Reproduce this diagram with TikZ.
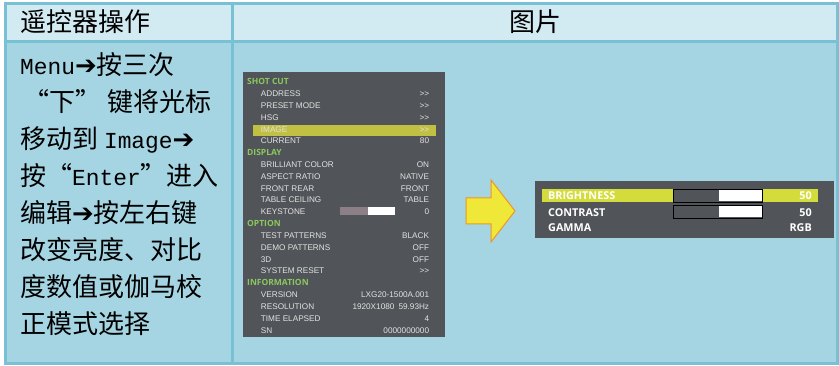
\documentclass[tikz,border=0pt]{standalone}
\usepackage{fontspec}
\setmainfont{Liberation Sans}
\newfontfamily\cjk{Noto Sans CJK SC}
\newfontfamily\lat[Scale=0.88]{Liberation Mono}
\newfontfamily\osd{Open Sans}
\newfontfamily\sym{DejaVu Sans}
\newcommand{\rarr}{{\sym ➔}}
\newcommand{\more}{>\kern0pt>}

\definecolor{hdrbg}{RGB}{210,234,242}
\definecolor{bodybg}{RGB}{165,213,226}
\definecolor{rule}{RGB}{120,192,211}
\definecolor{osdbg}{RGB}{81,84,88}
\definecolor{osdgreen}{RGB}{140,200,95}
\definecolor{osdtext}{RGB}{226,226,226}
\definecolor{hilite}{RGB}{193,192,66}
\definecolor{hilitetwo}{RGB}{212,220,60}
\definecolor{arrowfill}{RGB}{240,232,56}
\definecolor{arrowdraw}{RGB}{240,150,30}
\definecolor{keygray}{RGB}{140,127,134}

\tikzset{
  headtext/.style={anchor=base west, inner sep=0, font=\cjk\fontsize{26}{30}\selectfont},
  steptext/.style={anchor=base west, inner sep=0, font=\cjk\fontsize{26}{30}\selectfont},
  menuhead/.style={anchor=base west, inner sep=0, text=osdgreen, font=\osd\bfseries\fontsize{8.5}{9}\selectfont},
  menuitem/.style={anchor=base west, inner sep=0, text=osdtext, font=\fontsize{8.2}{9}\selectfont},
  menuval/.style={anchor=base east, inner sep=0, text=osdtext, font=\fontsize{8.2}{9}\selectfont},
  panelitem/.style={anchor=base west, inner sep=0, text=white, font=\osd\bfseries\fontsize{10.8}{12}\selectfont},
  panelval/.style={anchor=base east, inner sep=0, text=white, font=\osd\bfseries\fontsize{10.8}{12}\selectfont}
}

\begin{document}
\begin{tikzpicture}[x=1pt, y=-1pt]
  \useasboundingbox (0,0) rectangle (839,366);
  % table
  \fill[hdrbg] (5,3) rectangle (838,42);
  \fill[bodybg] (5,42) rectangle (838,364);
  \draw[rule, line width=3pt] (5.5,3.5) rectangle (837.5,364);
  \draw[rule, line width=3pt] (5.5,41.5) -- (837.5,41.5);
  \draw[rule, line width=3pt] (232.5,3.5) -- (232.5,364);
  \node[headtext] (keyhead) at (20,31.5) {遥控器操作};
  \node[headtext, anchor=base] (pichead) at (535,31.5) {图片};

  % steps
  \foreach \t [count=\i] in {{{\lat Menu}\rarr 按三次},
      {\hspace{3pt}“下”\hspace{6pt}键将光标},
      {移动到 {\lat Image}\rarr},
      {按“{\lat Enter}”进入},
      {编辑\rarr 按左右键},
      {改变亮度、对比},
      {度数值或伽马校},
      {正模式选择}}
    \node[steptext] (line\i) at (20,{74.5+37*(\i-1)}) {\t};

  % menu screen
  \fill[osdbg] (243,72) rectangle (445,337);
  \fill[hilite] (252.7,125) rectangle (436,135.7);
  \foreach \r/\txt in {0/SHOT CUT,6/DISPLAY,12/OPTION,17/INFORMATION}
    \node[menuhead] (head\r) at (247,{84.7+11.83*\r}) {\txt};
  \foreach \r/\txt/\val in {1/ADDRESS/\more,2/PRESET MODE/\more,3/HSG/\more,4/IMAGE/\more,
      5/CURRENT/80,7/BRILLIANT COLOR/ON,8/ASPECT RATIO/NATIVE,9/FRONT REAR/FRONT,
      10/TABLE CEILING/TABLE,11/KEYSTONE/0,13/TEST PATTERNS/BLACK,
      14/DEMO PATTERNS/OFF,15/3D/OFF,16/SYSTEM RESET/\more,18/VERSION/LXG20-1500A.001,
      19/RESOLUTION/1920X1080\enspace 59.93Hz,20/TIME ELAPSED/4,21/SN/0000000000}{
    \node[menuitem] (item\r) at (260.7,{84.7+11.83*\r}) {\txt};
    \node[menuval] (val\r) at (429.3,{84.7+11.83*\r}) {\val};
  }
  \fill[keygray] (340,207.3) rectangle (368,215.3);
  \fill[white] (368,207.3) rectangle (395,215.3);

  % arrow
  \filldraw[fill=arrowfill, draw=arrowdraw, line width=1pt]
    (466,198) -- (491,198) -- (491,180) -- (515,211) -- (491,242)
    -- (491,224) -- (466,224) -- cycle;

  % image menu
  \fill[osdbg] (535,181) rectangle (834,238);
  \fill[hilitetwo] (542,189) rectangle (818,202);
  \filldraw[fill=osdbg, draw=black, line width=0.8pt] (673,189.5) rectangle (762,202);
  \fill[white] (719,190.5) rectangle (761.5,201.5);
  \filldraw[fill=osdbg, draw=black, line width=0.8pt] (673,205.5) rectangle (762,218);
  \fill[white] (719,206.5) rectangle (761.5,217.5);
  \node[panelitem] (bright) at (548,199.5) {BRIGHTNESS};
  \node[panelval] (brightval) at (812,199.5) {50};
  \node[panelitem] (contrast) at (548,217) {CONTRAST};
  \node[panelval] (contrastval) at (812,217) {50};
  \node[panelitem] (gamma) at (548,232) {GAMMA};
  \node[panelval] (gammaval) at (812,232) {RGB};
\end{tikzpicture}
\end{document}
